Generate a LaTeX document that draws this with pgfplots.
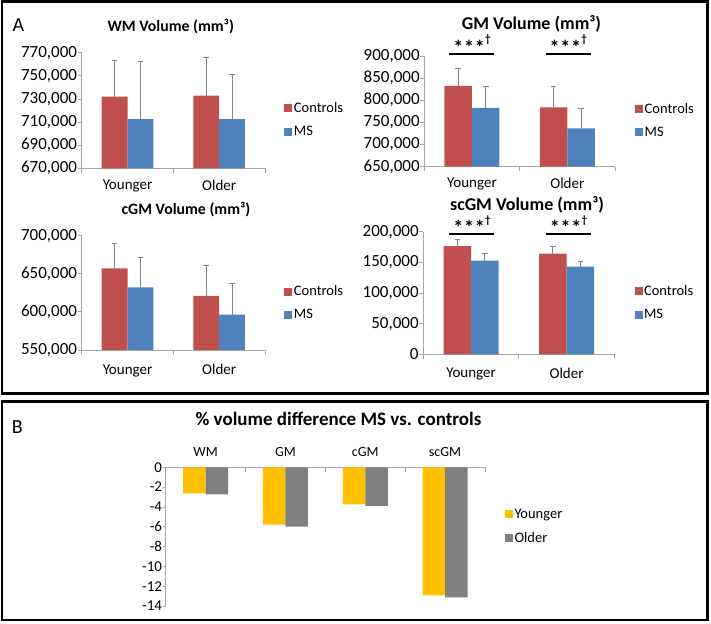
\documentclass[border=0pt]{standalone}
\usepackage{fontspec}
\setmainfont{Carlito}
\usepackage{pgfplots}
\pgfplotsset{compat=1.18}
\definecolor{ctrl}{HTML}{C0504D}
\definecolor{ms}{HTML}{4F81BD}
\definecolor{yng}{HTML}{FFC000}
\definecolor{old}{HTML}{808080}
\definecolor{axgray}{HTML}{A6A6A6}
\definecolor{errgray}{HTML}{858585}
\newcommand{\fs}[1]{\fontsize{#1}{#1}\selectfont}
\newcommand{\sig}{{\fs{20}\bfseries\raisebox{-0.55ex}{*\kern0.8pt*\kern0.8pt*}\kern0.3pt{\fs{11}\raisebox{1.1ex}{†}}}}
\pgfplotsset{
  base/.style={
    scale only axis, clip=false, enlargelimits=false,
    axis line style={draw=axgray, line width=0.8pt},
    tick style={draw=axgray, line width=0.8pt},
    tick align=outside, major tick length=4pt, minor tick length=4.5pt,
    /pgf/number format/assume math mode=true,
    scaled y ticks=false,
    yticklabel style={/pgf/number format/fixed, /pgf/number format/1000 sep={,}, font=\fs{17}, inner sep=0.5pt},
    major x tick style={draw=none},
    ybar=0pt,
    legend image code/.code={\fill[##1] (0pt,-4pt) rectangle (8pt,4pt);},
    legend cell align=left,
    legend style={draw=none, fill=none, inner sep=0pt, font=\fs{14.5}, row sep=9pt, nodes={inner sep=1.5pt}},
  },
  panelA/.style={base, axis lines*=left, xmin=-0.5, xmax=1.5, xtick={0,1}, xticklabels={Younger,Older},
    minor xtick={-0.5,0.5,1.5},
    xticklabel style={font=\fs{15}, yshift=-4pt},
    error bars/y dir=plus, error bars/y explicit,
    error bars/error bar style={draw=errgray, line width=0.9pt},
    error bars/error mark options={rotate=90, draw=errgray, mark size=2.8pt, line width=0.9pt},
  },
}
\begin{document}
\begin{tikzpicture}[x=1pt,y=1pt]
\useasboundingbox (0,0) rectangle (711,623);
\draw[line width=2.6pt] (2,229.7) rectangle (707.3,621.2);
\draw[line width=2.6pt] (2,3) rectangle (707.3,221.3);
\node[font=\fs{20}] at (18.3,598) {A};
\node[font=\fs{20}] at (17.2,196.3) {B};
\node[font=\fs{15.8}\bfseries] at (170.8,596) {WM Volume (mm³)};
\node[font=\fs{18}\bfseries] at (531.5,599) {GM Volume (mm³)};
\node[font=\fs{15.8}\bfseries] at (186,413) {cGM Volume (mm³)};
\node[font=\fs{18}\bfseries] at (527,418) {scGM Volume (mm³)};
\node[font=\fs{19}\bfseries] at (338.5,203.7) {\% volume difference MS vs. controls};

% WM
\begin{axis}[panelA, at={(81.7pt,454.7pt)}, anchor=south west, width=183.3pt, height=115.6pt,
  ymin=670000, ymax=770000, ytick={670000,690000,710000,730000,750000,770000}, bar width=25.8pt,
  legend style={at={(1.105,0.419)}, anchor=west}]
\addplot[fill=ctrl, draw=none] coordinates {(0,731900) +- (0,31800) (1,732800) +- (0,33200)};
\addplot[fill=ms, draw=none] coordinates {(0,712600) +- (0,49400) (1,712600) +- (0,38400)};
\legend{Controls, MS}
\end{axis}

% GM
\begin{axis}[panelA, at={(424.3pt,456.3pt)}, anchor=south west, width=190.7pt, height=110.7pt,
  ymin=650000, ymax=900000, ytick={650000,700000,750000,800000,850000,900000}, bar width=27.5pt,
  legend style={at={(1.105,0.419)}, anchor=west}]
\addplot[fill=ctrl, draw=none] coordinates {(0,832300) +- (0,40600) (1,784200) +- (0,48000)};
\addplot[fill=ms, draw=none] coordinates {(0,782600) +- (0,48100) (1,736700) +- (0,44300)};
\legend{Controls, MS}
\draw[line width=2.2pt] (axis cs:-0.238,904500) -- (axis cs:0.231,904500);
\draw[line width=2.2pt] (axis cs:0.776,904500) -- (axis cs:1.245,904500);
\node at (axis cs:0,925500) {\sig};
\node at (axis cs:1.01,925500) {\sig};
\end{axis}

% cGM
\begin{axis}[panelA, at={(81.7pt,273pt)}, anchor=south west, width=183.3pt, height=114.3pt,
  ymin=550000, ymax=700000, ytick={550000,600000,650000,700000}, bar width=25.8pt,
  xticklabel style={yshift=-3pt},
  legend style={at={(1.105,0.411)}, anchor=west}]
\addplot[fill=ctrl, draw=none] coordinates {(0,657200) +- (0,32800) (1,620900) +- (0,39700)};
\addplot[fill=ms, draw=none] coordinates {(0,632300) +- (0,39700) (1,596400) +- (0,41300)};
\legend{Controls, MS}
\end{axis}

% scGM
\begin{axis}[panelA, at={(423.3pt,268.7pt)}, anchor=south west, width=191pt, height=122.6pt,
  ymin=0, ymax=200000, ytick={0,50000,100000,150000,200000}, bar width=27.5pt,
  xticklabel style={yshift=-2pt},
  legend style={at={(1.105,0.42)}, anchor=west}]
\addplot[fill=ctrl, draw=none] coordinates {(0,176600) +- (0,11000) (1,164100) +- (0,12500)};
\addplot[fill=ms, draw=none] coordinates {(0,152700) +- (0,12000) (1,142900) +- (0,8100)};
\legend{Controls, MS}
\draw[line width=2.2pt] (axis cs:-0.228,196250) -- (axis cs:0.24,196250);
\draw[line width=2.2pt] (axis cs:0.785,196250) -- (axis cs:1.253,196250);
\node at (axis cs:0.01,211300) {\sig};
\node at (axis cs:1.02,211300) {\sig};
\end{axis}

% Panel B
\begin{axis}[base, at={(165.7pt,17pt)}, anchor=south west, width=319.3pt, height=138.7pt,
  axis x line*=top, axis y line*=left, tick align=inside,
  xmin=-0.5, xmax=3.5, ymin=-14, ymax=0, ytick={-14,-12,-10,-8,-6,-4,-2,0},
  xtick={0,1,2,3}, xticklabels={WM,GM,cGM,scGM}, minor xtick={-0.5,0.5,1.5,2.5,3.5},
  xticklabel style={font=\fs{14}, yshift=7pt},
  yticklabel style={font=\fs{15}, xshift=-3pt},
  major y tick style={xshift=-3pt}, major tick length=3pt,
  bar width=22.5pt,
  legend style={at={(1.062,0.573)}, anchor=west, row sep=10pt}]
\addplot[fill=yng, draw=none] coordinates {(0,-2.63) (1,-5.79) (2,-3.74) (3,-12.93)};
\addplot[fill=old, draw=none] coordinates {(0,-2.73) (1,-5.99) (2,-3.90) (3,-13.13)};
\legend{Younger, Older}
\end{axis}
\end{tikzpicture}
\end{document}
